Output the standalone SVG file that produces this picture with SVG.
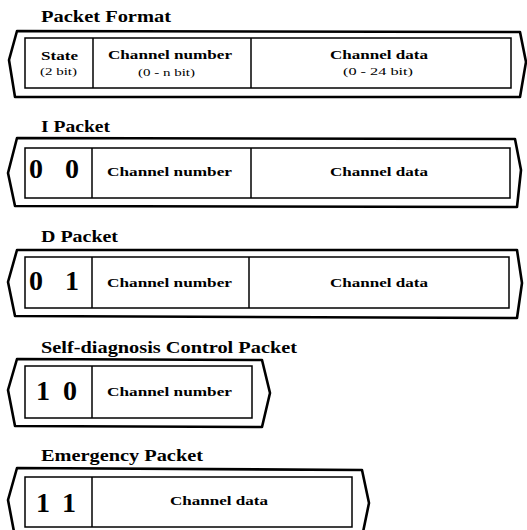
<svg xmlns="http://www.w3.org/2000/svg" width="527" height="530" viewBox="0 0 527 530">
<style>
text{font-family:"Liberation Serif","Times New Roman",serif;font-weight:bold;fill:#000}
.title{font-size:16px}
.lbl{font-size:12.5px}
.sub{font-size:9.5px;font-weight:normal}
.dig{font-size:28px}
.outer{fill:none;stroke:#000;stroke-width:2.6;stroke-linejoin:round}
.inner{fill:none;stroke:#000;stroke-width:1.5}
.div{stroke:#000;stroke-width:1.5}
</style>
<rect width="527" height="530" fill="#fff"/>
<g id="packet-format">
<text class="title" x="41" y="22" textLength="130" lengthAdjust="spacingAndGlyphs">Packet Format</text>
<path class="outer" d="M17,31 L520,32 L526,62 L520,97 L15,97 L9,60 Z"/>
<rect class="inner" x="25" y="38" width="486" height="50"/>
<line class="div" x1="93" y1="38" x2="93" y2="88"/>
<line class="div" x1="251" y1="38" x2="251" y2="88"/>
<text class="lbl" x="41" y="60" textLength="37" lengthAdjust="spacingAndGlyphs">State</text>
<text class="sub" x="40" y="75" textLength="37" lengthAdjust="spacingAndGlyphs">(2 bit)</text>
<text class="lbl" x="108" y="59" textLength="124" lengthAdjust="spacingAndGlyphs">Channel number</text>
<text class="sub" x="138" y="76" textLength="57" lengthAdjust="spacingAndGlyphs">(0 - n bit)</text>
<text class="lbl" x="330" y="59" textLength="98" lengthAdjust="spacingAndGlyphs">Channel data</text>
<text class="sub" x="343" y="75" textLength="70" lengthAdjust="spacingAndGlyphs">(0 - 24 bit)</text>
</g>
<g id="i-packet">
<text class="title" x="41" y="132" textLength="69" lengthAdjust="spacingAndGlyphs">I Packet</text>
<path class="outer" d="M17,138 L515,139 L521,170 L517,207 L15,206 L8,173 Z"/>
<rect class="inner" x="25" y="148" width="485" height="50"/>
<line class="div" x1="92" y1="148" x2="92" y2="198"/>
<line class="div" x1="251" y1="148" x2="251" y2="198"/>
<text class="dig" x="29 50 65" y="178">0 0</text>
<text class="lbl" x="107" y="176" textLength="125" lengthAdjust="spacingAndGlyphs">Channel number</text>
<text class="lbl" x="330" y="176" textLength="98" lengthAdjust="spacingAndGlyphs">Channel data</text>
</g>
<g id="d-packet">
<text class="title" x="41" y="242" textLength="77" lengthAdjust="spacingAndGlyphs">D Packet</text>
<path class="outer" d="M17,250 L517,250 L522,283 L517,318 L15,316 L8,282 Z"/>
<rect class="inner" x="25" y="257" width="484" height="51"/>
<line class="div" x1="92" y1="257" x2="92" y2="308"/>
<line class="div" x1="249" y1="257" x2="249" y2="308"/>
<text class="dig" x="29 50 65" y="290">0 1</text>
<text class="lbl" x="107" y="287" textLength="125" lengthAdjust="spacingAndGlyphs">Channel number</text>
<text class="lbl" x="330" y="287" textLength="98" lengthAdjust="spacingAndGlyphs">Channel data</text>
</g>
<g id="self-diagnosis-packet">
<text class="title" x="41" y="353" textLength="256" lengthAdjust="spacingAndGlyphs" style="font-size:17px">Self-diagnosis Control Packet</text>
<path class="outer" d="M17,359 L262,360 L270,393 L262,427 L15,426 L8,390 Z"/>
<rect class="inner" x="25" y="366" width="227" height="52"/>
<line class="div" x1="92" y1="366" x2="92" y2="418"/>
<text class="dig" x="36 52 63" y="400">1 0</text>
<text class="lbl" x="107" y="396" textLength="125" lengthAdjust="spacingAndGlyphs">Channel number</text>
</g>
<g id="emergency-packet">
<text class="title" x="41" y="461" textLength="162" lengthAdjust="spacingAndGlyphs">Emergency Packet</text>
<path class="outer" d="M17,468 L362,470 L369,503 L362,537 L15,537 L8,500 Z"/>
<rect class="inner" x="25" y="477" width="327" height="50"/>
<line class="div" x1="92" y1="477" x2="92" y2="527"/>
<text class="dig" x="36 52 62" y="512">1 1</text>
<text class="lbl" x="170" y="505" textLength="98" lengthAdjust="spacingAndGlyphs">Channel data</text>
</g>
</svg>
